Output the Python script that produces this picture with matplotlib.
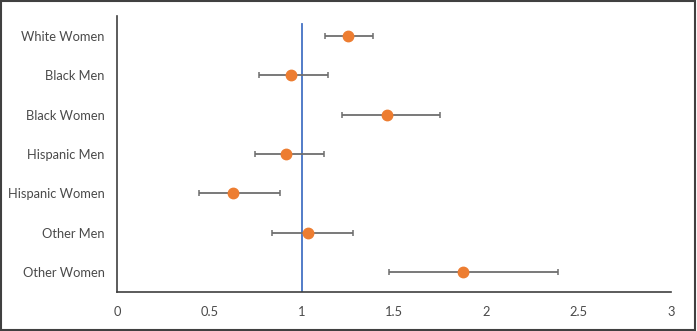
import matplotlib.pyplot as plt
from matplotlib.patches import Rectangle

groups = ["White Women", "Black Men", "Black Women", "Hispanic Men",
          "Hispanic Women", "Other Men", "Other Women"]
estimate = [1.253, 0.942, 1.462, 0.915, 0.626, 1.034, 1.875]
lower = [1.125, 0.770, 1.217, 0.747, 0.444, 0.841, 1.474]
upper = [1.386, 1.145, 1.750, 1.120, 0.884, 1.280, 2.386]
xticks = [0, 0.5, 1, 1.5, 2, 2.5, 3]
xtick_labels = ["0", "0.5", "1", "1.5", "2", "2.5", "3"]

plt.rcParams['font.family'] = ['Lato', 'DejaVu Sans']

fig = plt.figure(figsize=(6.97, 3.31), dpi=100)
ax = fig.add_axes([117 / 697, 1 - 292 / 331, 554 / 697, 276 / 331])

ypos = list(range(len(groups)))
err_lo = [e - l for e, l in zip(estimate, lower)]
err_hi = [u - e for e, u in zip(estimate, upper)]

# reference line at 1
ax.plot([1, 1], [-0.3, len(groups) - 0.5], color="#4472C4", lw=1.3, zorder=1)

ax.errorbar(estimate, ypos, xerr=[err_lo, err_hi], fmt='o', color="#ED7D31",
            ecolor="#6E6E6E", elinewidth=1.3, capsize=2.4, capthick=1.1,
            markersize=7.5, zorder=3)

ax.set_xlim(0, 3)
ax.set_ylim(len(groups) - 0.5, -0.5)
ax.set_yticks(ypos)
ax.set_yticklabels(groups)
ax.set_xticks(xticks)
ax.set_xticklabels(xtick_labels)
ax.tick_params(length=0, labelsize=9.3, colors="#4a4a4a", pad=9)
ax.tick_params(axis='x', pad=10)

for side in ["top", "right"]:
    ax.spines[side].set_visible(False)
for side in ["left", "bottom"]:
    ax.spines[side].set_color("#404040")
    ax.spines[side].set_linewidth(1.2)

# outer frame
fig.patches.append(Rectangle((0.002, 0.003), 0.995, 0.993, transform=fig.transFigure,
                             fill=False, edgecolor="#404040", lw=1.5))

fig.savefig("out.png", dpi=100)
